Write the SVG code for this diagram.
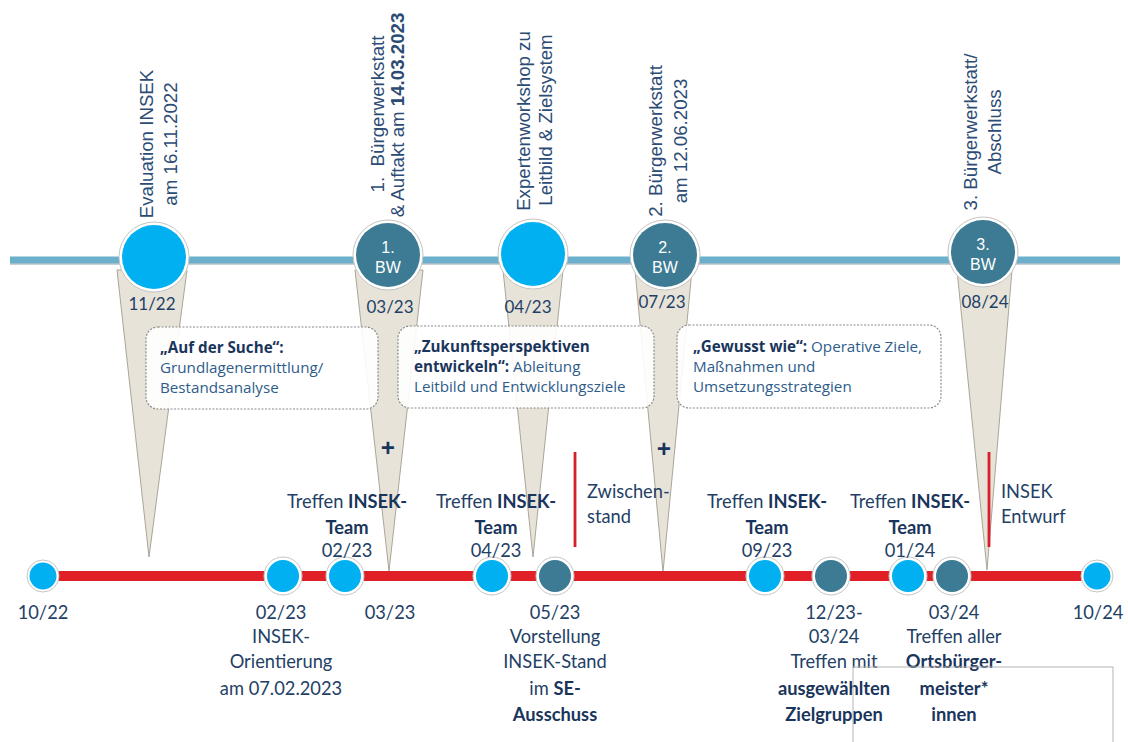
<svg xmlns="http://www.w3.org/2000/svg" width="1128" height="742" viewBox="0 0 1128 742">
<defs>
<style>
.rot{font-family:"Liberation Sans",Arial,sans-serif;font-size:18.7px;fill:#2c4c75;text-anchor:middle}
.bw{font-family:"Liberation Sans",Arial,sans-serif;font-size:16px;fill:#ffffff;text-anchor:middle}
.lbl{font-family:Lato,"Open Sans",sans-serif;font-size:18.3px;fill:#243f66;text-anchor:middle}
.date{font-family:Lato,"Open Sans",sans-serif;font-size:17px;fill:#243f66;text-anchor:middle}
.b{font-weight:bold;fill:#1a355c}
.box{fill:#ffffff;fill-opacity:0.9;stroke:#8a8a8a;stroke-width:1.2;stroke-dasharray:2 1.5}
.bt{font-family:"Open Sans",Lato,sans-serif;font-size:15.2px;fill:#2e5c8a}
.cone{fill:#e7e3d9;stroke:#aaa598;stroke-width:1}
.ring{fill:#ffffff;stroke:#c4c4c4;stroke-width:1}
.lb{fill:#00b0f0}
.dk{fill:#3c7b93}
.plus{font-family:"Open Sans",Lato,sans-serif;font-size:25px;font-weight:bold;fill:#1a355c;text-anchor:middle}
.pre{white-space:pre}
.st{text-anchor:start}
</style>
</defs>
<rect width="1128" height="742" fill="#ffffff"/>

<g id="cones">
<polygon class="cone" points="117,270 187,270 149,557"/>
<polygon class="cone" points="355,270 423,270 389,571"/>
<polygon class="cone" points="503,270 563,270 533,557"/>
<polygon class="cone" points="635,270 692,270 663,572"/>
<polygon class="cone" points="957,270 1012,270 987,570"/>
</g>

<g id="connectors">
<rect x="10" y="256.5" width="1110" height="7" fill="#6aafcb"/>
<line x1="10" y1="264" x2="1120" y2="264" stroke="#8fa3ac" stroke-width="1.2"/>
<line x1="43" y1="576" x2="1097" y2="576" stroke="#e11f26" stroke-width="10"/>
<line x1="575" y1="452" x2="575" y2="547" stroke="#d5202a" stroke-width="2.8"/>
<line x1="989" y1="452" x2="989" y2="547" stroke="#d5202a" stroke-width="2.8"/>
</g>

<g id="top-evaluation">
<circle class="ring" cx="154" cy="257" r="35"/>
<circle class="lb" cx="154" cy="257" r="32"/>
<text class="date" x="152" y="310">11/22</text>
<text class="rot" transform="translate(153,144) rotate(-90)">Evaluation INSEK</text>
<text class="rot" transform="translate(177,144) rotate(-90)">am 16.11.2022</text>
</g>

<g id="top-bw1">
<circle class="ring" cx="388" cy="255" r="35"/>
<circle class="dk" cx="388" cy="255" r="32"/>
<text class="bw" x="388" y="253">1.</text>
<text class="bw" x="388" y="273">BW</text>
<text class="date" x="390" y="313">03/23</text>
<text class="rot pre" transform="translate(384,114) rotate(-90)">1.  Bürgerwerkstatt</text>
<text class="rot" transform="translate(404,115) rotate(-90)">&amp; Auftakt am <tspan font-weight="bold">14.03.2023</tspan></text>
</g>

<g id="top-experten">
<circle class="ring" cx="533" cy="254" r="35"/>
<circle class="lb" cx="533" cy="254" r="32"/>
<text class="date" x="528" y="313">04/23</text>
<text class="rot" transform="translate(530,121) rotate(-90)">Expertenworkshop zu</text>
<text class="rot" transform="translate(552,120) rotate(-90)">Leitbild &amp; Zielsystem</text>
</g>

<g id="top-bw2">
<circle class="ring" cx="665" cy="255" r="35"/>
<circle class="dk" cx="665" cy="255" r="32"/>
<text class="bw" x="665" y="253">2.</text>
<text class="bw" x="665" y="273">BW</text>
<text class="date" x="662" y="308">07/23</text>
<text class="rot" transform="translate(662,141) rotate(-90)">2. Bürgerwerkstatt</text>
<text class="rot" transform="translate(687,141) rotate(-90)">am 12.06.2023</text>
</g>

<g id="top-bw3">
<circle class="ring" cx="983" cy="252" r="35"/>
<circle class="dk" cx="983" cy="252" r="32"/>
<text class="bw" x="983" y="250">3.</text>
<text class="bw" x="983" y="270">BW</text>
<text class="date" x="985" y="308">08/24</text>
<text class="rot" transform="translate(977,132) rotate(-90)">3. Bürgerwerkstatt/</text>
<text class="rot" transform="translate(1001,132) rotate(-90)">Abschluss</text>
</g>

<g id="box-suche">
<rect class="box" x="146" y="327" width="232" height="82" rx="12"/>
<text class="bt" x="160" y="353"><tspan class="b">„Auf der Suche“:</tspan></text>
<text class="bt" x="160" y="373">Grundlagenermittlung/</text>
<text class="bt" x="160" y="393">Bestandsanalyse</text>
</g>

<g id="box-zukunft">
<rect class="box" x="398" y="326" width="256" height="82" rx="12"/>
<text class="bt" x="414" y="352"><tspan class="b">„Zukunftsperspektiven</tspan></text>
<text class="bt" x="414" y="372"><tspan class="b">entwickeln“:</tspan> Ableitung</text>
<text class="bt" x="414" y="392">Leitbild und Entwicklungsziele</text>
</g>

<g id="box-gewusst">
<rect class="box" x="677" y="325" width="264" height="83" rx="12"/>
<text class="bt" x="693" y="352"><tspan class="b">„Gewusst wie“:</tspan> Operative Ziele,</text>
<text class="bt" x="693" y="372">Maßnahmen und</text>
<text class="bt" x="693" y="392">Umsetzungsstrategien</text>
</g>

<g id="plus-1"><text class="plus" x="388" y="457">+</text></g>
<g id="plus-2"><text class="plus" x="664" y="458">+</text></g>

<g id="zwischenstand">
<text class="lbl st" x="587" y="498">Zwischen-</text>
<text class="lbl st" x="587" y="523">stand</text>
</g>
<g id="insek-entwurf">
<text class="lbl st" x="1001" y="498">INSEK</text>
<text class="lbl st" x="1001" y="523">Entwurf</text>
</g>

<g id="n-1022">
<circle class="ring" cx="43" cy="576" r="16"/>
<circle class="lb" cx="43" cy="576" r="13.5"/>
<text class="lbl" x="43" y="619">10/22</text>
</g>
<g id="n-0223-orient">
<circle class="ring" cx="283" cy="576" r="19"/>
<circle class="lb" cx="283" cy="576" r="16"/>
<text class="lbl" x="281" y="619">02/23</text>
<text class="lbl" x="281" y="643">INSEK-</text>
<text class="lbl" x="281" y="668">Orientierung</text>
<text class="lbl" x="281" y="695">am 07.02.2023</text>
</g>
<g id="n-0223-team">
<circle class="ring" cx="345" cy="576" r="19"/>
<circle class="lb" cx="345" cy="576" r="16"/>
<text class="lbl" x="347" y="508">Treffen <tspan class="b">INSEK-</tspan></text>
<text class="lbl b" x="347" y="534">Team</text>
<text class="lbl" x="347" y="557">02/23</text>
</g>
<g id="n-0323">
<text class="lbl" x="390" y="619">03/23</text>
</g>
<g id="n-0423-team">
<circle class="ring" cx="492" cy="576" r="19"/>
<circle class="lb" cx="492" cy="576" r="16"/>
<text class="lbl" x="496" y="508">Treffen <tspan class="b">INSEK-</tspan></text>
<text class="lbl b" x="496" y="534">Team</text>
<text class="lbl" x="496" y="557">04/23</text>
</g>
<g id="n-0523">
<circle class="ring" cx="555" cy="576" r="19"/>
<circle class="dk" cx="555" cy="576" r="16"/>
<text class="lbl" x="555" y="619">05/23</text>
<text class="lbl" x="555" y="643">Vorstellung</text>
<text class="lbl" x="555" y="668">INSEK-Stand</text>
<text class="lbl" x="555" y="695">im <tspan class="b">SE-</tspan></text>
<text class="lbl b" x="555" y="721">Ausschuss</text>
</g>
<g id="n-0923-team">
<circle class="ring" cx="765" cy="576" r="19"/>
<circle class="lb" cx="765" cy="576" r="16"/>
<text class="lbl" x="767" y="508">Treffen <tspan class="b">INSEK-</tspan></text>
<text class="lbl b" x="767" y="534">Team</text>
<text class="lbl" x="767" y="557">09/23</text>
</g>
<g id="n-1223">
<circle class="ring" cx="831" cy="576" r="19"/>
<circle class="dk" cx="831" cy="576" r="16"/>
<text class="lbl" x="834" y="619">12/23-</text>
<text class="lbl" x="834" y="643">03/24</text>
<text class="lbl" x="834" y="668">Treffen mit</text>
<text class="lbl b" x="834" y="695">ausgewählten</text>
<text class="lbl b" x="834" y="721">Zielgruppen</text>
</g>
<g id="n-0124-team">
<circle class="ring" cx="908" cy="576" r="19"/>
<circle class="lb" cx="908" cy="576" r="16"/>
<text class="lbl" x="910" y="508">Treffen <tspan class="b">INSEK-</tspan></text>
<text class="lbl b" x="910" y="534">Team</text>
<text class="lbl" x="910" y="557">01/24</text>
</g>
<g id="n-0324">
<circle class="ring" cx="952" cy="576" r="19"/>
<circle class="dk" cx="952" cy="576" r="16"/>
<text class="lbl" x="954" y="619">03/24</text>
<text class="lbl" x="954" y="643">Treffen aller</text>
<text class="lbl b" x="954" y="668">Ortsbürger-</text>
<text class="lbl b" x="954" y="695">meister*</text>
<text class="lbl b" x="954" y="721">innen</text>
</g>
<g id="n-1024">
<circle class="ring" cx="1097" cy="576" r="16"/>
<circle class="lb" cx="1097" cy="576" r="13.5"/>
<text class="lbl" x="1098" y="619">10/24</text>
</g>

<g id="frame">
<polyline points="853,742 853,667 1113,667 1113,742" fill="none" stroke="#b4b4b4" stroke-width="1"/>
</g>
</svg>
